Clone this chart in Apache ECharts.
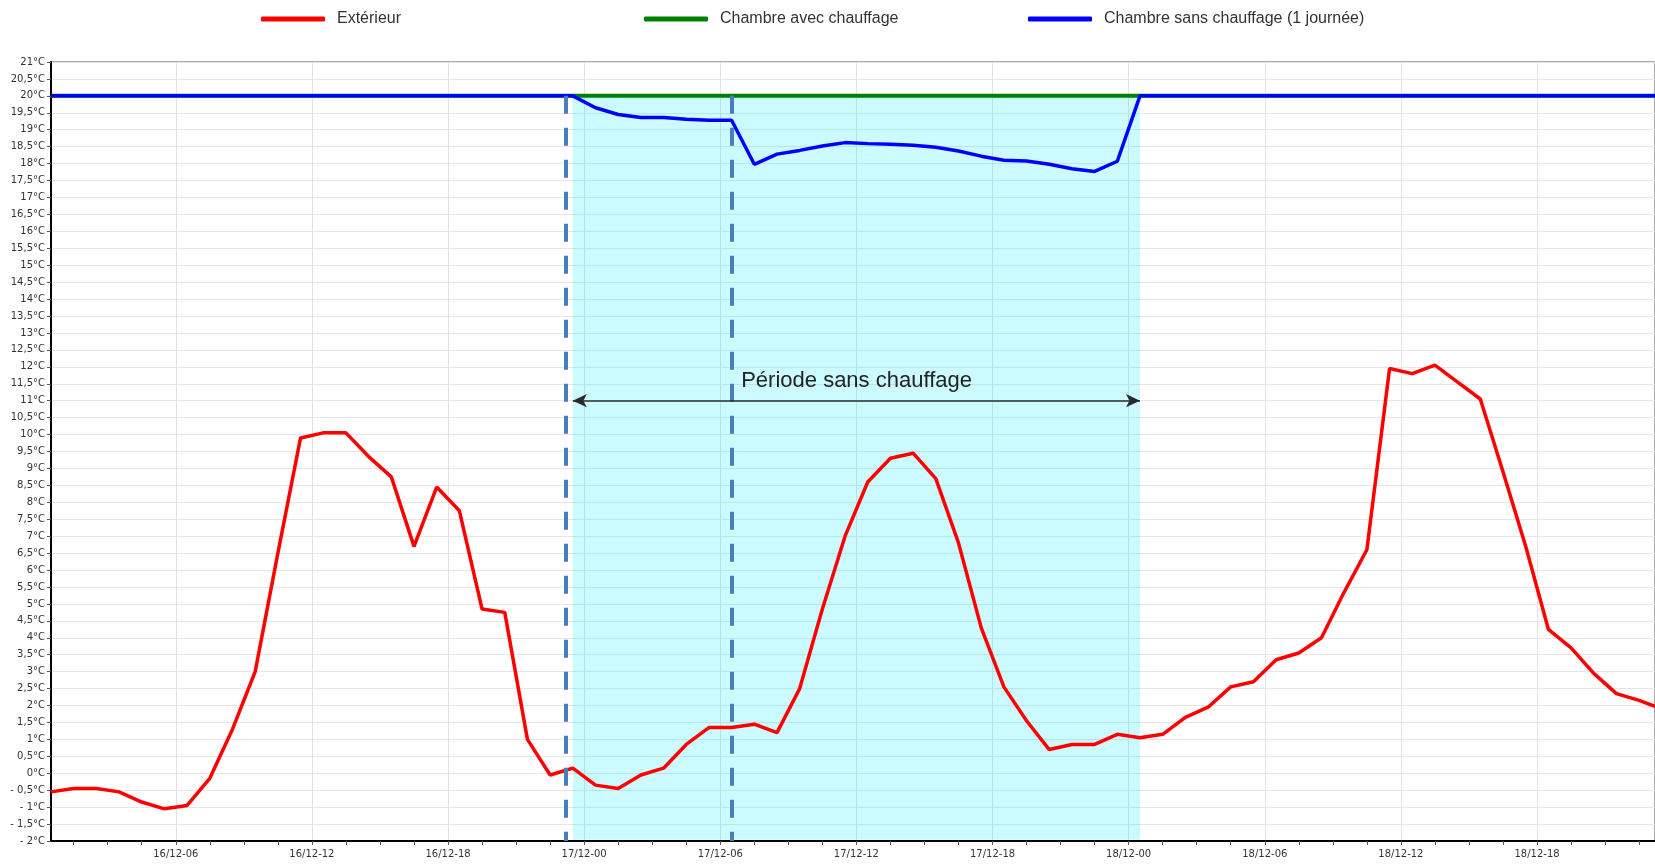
<!DOCTYPE html>
<html>
<head>
<meta charset="utf-8">
<script src="https://cdn.jsdelivr.net/npm/echarts@6/dist/echarts.min.js"></script>
<style>
html,body{margin:0;padding:0;background:#fff;}
#chart{width:1655px;height:865px;}
</style>
</head>
<body>
<div id="chart"></div>
<script>
// Hourly readings, first reading at 16/12 00:30 (x is hours since 16/12 00:00)
const exterieur = [-0.55,-0.45,-0.45,-0.55,-0.85,-1.05,-0.95,-0.15,1.3,3.0,
  6.5,9.9,10.05,10.05,9.35,8.75,6.7,8.45,7.75,4.85,
  4.75,1.0,-0.05,0.15,-0.35,-0.45,-0.05,0.15,0.85,1.35,
  1.35,1.45,1.2,2.5,4.85,7.0,8.6,9.3,9.45,8.7,
  6.8,4.3,2.55,1.55,0.7,0.85,0.85,1.15,1.05,1.15,
  1.65,1.95,2.55,2.7,3.35,3.55,4.0,5.35,6.6,11.95,
  11.8,12.05,11.55,11.05,8.9,6.7,4.25,3.7,2.95,2.35,
  2.15,1.9];
const chambreAvecChauffage = [20,20,20,20,20,20,20,20,20,20,
  20,20,20,20,20,20,20,20,20,20,
  20,20,20,20,20,20,20,20,20,20,
  20,20,20,20,20,20,20,20,20,20,
  20,20,20,20,20,20,20,20,20,20,
  20,20,20,20,20,20,20,20,20,20,
  20,20,20,20,20,20,20,20,20,20,
  20,20];
const chambreSansChauffage = [20,20,20,20,20,20,20,20,20,20,
  20,20,20,20,20,20,20,20,20,20,
  20,20,20,20,19.65,19.45,19.36,19.36,19.31,19.28,
  19.28,17.98,18.28,18.39,18.52,18.62,18.59,18.57,18.54,18.48,
  18.37,18.22,18.1,18.08,17.98,17.85,17.77,18.07,20,20,
  20,20,20,20,20,20,20,20,20,20,
  20,20,20,20,20,20,20,20,20,20,
  20,20];
const seriesNames = ['Extérieur', 'Chambre avec chauffage', 'Chambre sans chauffage (1 journée)'];
const tickHours = [6,12,18,24,30,36,42,48,54,60,66];
const tickLabels = ['16/12-06','16/12-12','16/12-18','17/12-00','17/12-06','17/12-12','17/12-18','18/12-00','18/12-06','18/12-12','18/12-18'];
const periodStart = 23.5, periodEnd = 48.5;   // hours
const dashedHours = [23.2, 30.5];
const annotationText = 'Période sans chauffage';

const hours = exterieur.map((_, i) => i + 0.5);
const minorTicks = [];
for (let h = 1.5; h < 71; h += 1.5) minorTicks.push(h);
const pair = arr => hours.map((h, i) => [h, arr[i]]);

const chart = echarts.init(document.getElementById('chart'), null, {renderer: 'canvas'});

const legendCommon = {
  top: 6, icon: 'roundRect', itemWidth: 64, itemHeight: 5,
  textStyle: {fontFamily: 'Liberation Sans', fontSize: 16, color: '#333', padding: [0,0,0,7]},
  selectedMode: false
};

const option = {
  animation: false,
  backgroundColor: '#fff',
  legend: [
    Object.assign({left: 256, data: [seriesNames[0]]}, legendCommon),
    Object.assign({left: 639, data: [seriesNames[1]]}, legendCommon),
    Object.assign({left: 1023, data: [seriesNames[2]]}, legendCommon)
  ],
  grid: {left: 51, right: -3, top: 62, bottom: 24, show: true, borderColor: '#555', borderWidth: 1, containLabel: false},
  xAxis: [{
    type: 'value', min: 0.5, max: 71.2,
    axisLine: {show: true, onZero: false, lineStyle: {color: '#000', width: 2}},
    axisTick: {show: true, customValues: minorTicks, length: 4, lineStyle: {color: '#555'}},
    axisLabel: {
      customValues: tickHours, margin: 8, fontFamily: 'DejaVu Sans', fontSize: 10, color: '#333',
      formatter: v => { const k = tickHours.indexOf(Math.round(v)); return k >= 0 ? tickLabels[k] : ''; }
    },
    splitLine: {show: false}
  }, {
    type: 'value', min: 0.5, max: 71.2, position: 'bottom',
    axisLine: {show: false}, axisLabel: {show: false},
    axisTick: {show: false, customValues: tickHours},
    splitLine: {show: true, lineStyle: {color: '#e2e2e2', width: 1}}
  }],
  yAxis: {
    type: 'value', min: -2, max: 21, interval: 0.5,
    axisLine: {show: true, onZero: false, lineStyle: {color: '#000', width: 2}},
    axisTick: {show: true, length: 4, lineStyle: {color: '#555'}},
    axisLabel: {
      margin: 6, fontFamily: 'DejaVu Sans', fontSize: 10, color: '#333',
      formatter: v => (v < 0 ? '- ' : '') + String(Math.abs(Math.round(v * 10) / 10)).replace('.', ',') + '°C'
    },
    splitLine: {show: true, lineStyle: {color: '#e6e6e6', width: 1}}
  },
  series: [
    {
      name: seriesNames[0], type: 'line', data: pair(exterieur), showSymbol: false, z: 3,
      itemStyle: {color: '#ff0000'}, lineStyle: {color: '#ff0000', width: 3.5}
    },
    {
      name: seriesNames[1], type: 'line', data: pair(chambreAvecChauffage), showSymbol: false, z: 3,
      itemStyle: {color: '#008000'}, lineStyle: {color: '#008000', width: 4}
    },
    {
      name: seriesNames[2], type: 'line', data: pair(chambreSansChauffage), showSymbol: false, z: 4,
      itemStyle: {color: '#0000ff'}, lineStyle: {color: '#0000ff', width: 3.5}
    },
    {
      name: 'zone', type: 'line', data: [], z: 1, silent: true,
      markArea: {
        silent: true,
        itemStyle: {color: 'rgba(0,235,255,0.2)'},
        data: [[{xAxis: periodStart, yAxis: -1.96}, {xAxis: periodEnd, yAxis: 20}]]
      }
    },
    {
      name: 'annot', type: 'line', data: [], z: 6, silent: true,
      markLine: {
        silent: true, symbol: 'none', label: {show: false}, animation: false,
        data: [
          [{coord: [dashedHours[0], 20], lineStyle: {color: '#4a7ebb', width: 4, type: [18, 14]}}, {coord: [dashedHours[0], -2]}],
          [{coord: [dashedHours[1], 20], lineStyle: {color: '#4a7ebb', width: 4, type: [18, 14]}}, {coord: [dashedHours[1], -2]}],
          [{coord: [periodStart, 11], symbol: 'arrow', symbolSize: [10, 14], lineStyle: {color: '#2a2a2a', width: 1.5, type: 'solid'}},
           {coord: [periodEnd, 11], symbol: 'arrow', symbolSize: [10, 14]}]
        ]
      },
      markPoint: {
        silent: true,
        data: [{
          coord: [30.9, 11.58], symbol: 'rect', symbolSize: 1, itemStyle: {color: 'rgba(0,0,0,0)'},
          label: {show: true, position: 'right', distance: 0, formatter: annotationText,
                  fontFamily: 'Liberation Sans', fontSize: 22, color: '#222'}
        }]
      }
    }
  ]
};
chart.setOption(option);
</script>
</body>
</html>
